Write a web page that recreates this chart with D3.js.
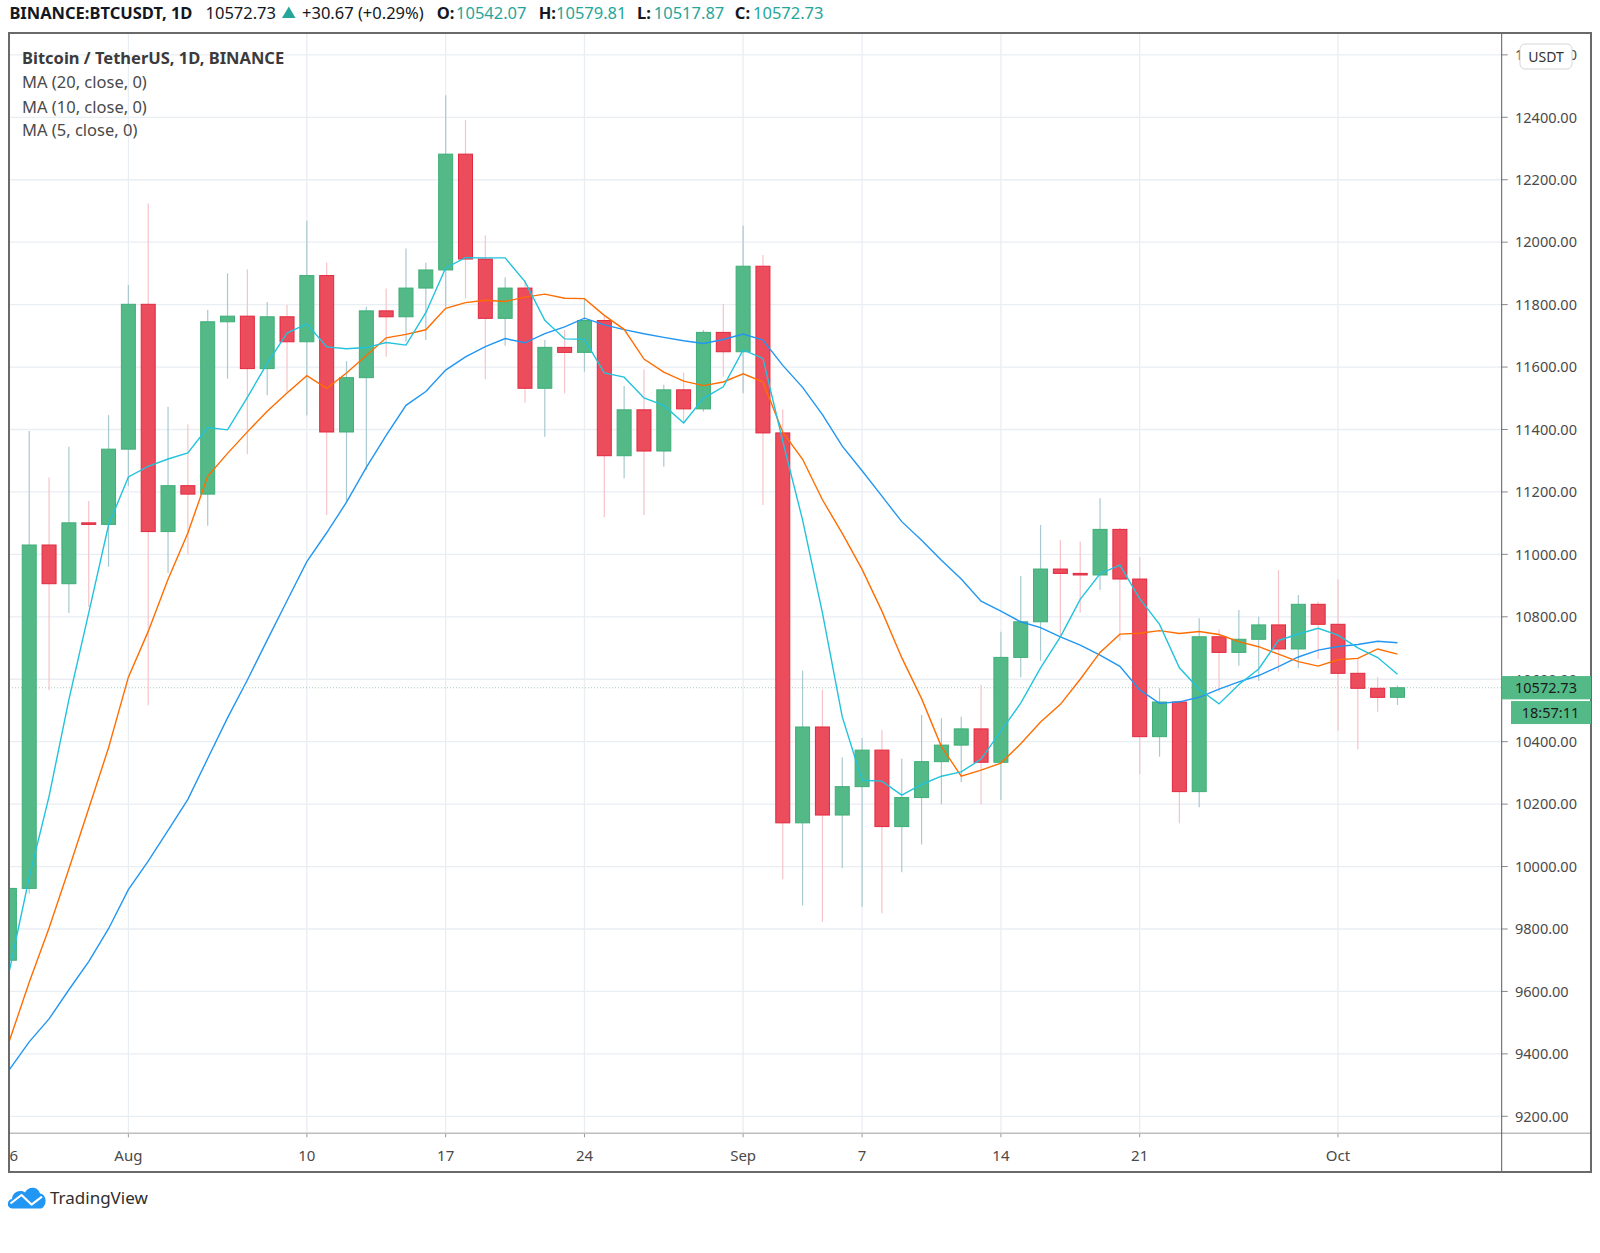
<!DOCTYPE html>
<html><head><meta charset="utf-8">
<script src="https://cdn.jsdelivr.net/npm/d3@7/dist/d3.min.js"></script>
<style>
html,body{margin:0;padding:0;background:#fff;}
svg{display:block;}
text{font-family:"Noto Sans",Lato,sans-serif;}
</style></head>
<body>
<svg id="chart" width="1600" height="1253"></svg>
<script>
// ---------- DATA ----------
const dates = ["2020-07-26","2020-07-27","2020-07-28","2020-07-29","2020-07-30","2020-07-31",
"2020-08-01","2020-08-02","2020-08-03","2020-08-04","2020-08-05","2020-08-06","2020-08-07","2020-08-08","2020-08-09","2020-08-10",
"2020-08-11","2020-08-12","2020-08-13","2020-08-14","2020-08-15","2020-08-16","2020-08-17","2020-08-18","2020-08-19","2020-08-20",
"2020-08-21","2020-08-22","2020-08-23","2020-08-24","2020-08-25","2020-08-26","2020-08-27","2020-08-28","2020-08-29","2020-08-30","2020-08-31",
"2020-09-01","2020-09-02","2020-09-03","2020-09-04","2020-09-05","2020-09-06","2020-09-07","2020-09-08","2020-09-09","2020-09-10",
"2020-09-11","2020-09-12","2020-09-13","2020-09-14","2020-09-15","2020-09-16","2020-09-17","2020-09-18","2020-09-19","2020-09-20",
"2020-09-21","2020-09-22","2020-09-23","2020-09-24","2020-09-25","2020-09-26","2020-09-27","2020-09-28","2020-09-29","2020-09-30",
"2020-10-01","2020-10-02","2020-10-03","2020-10-04"];
const opens = [9700,9930,11030,10906,11101,11096,11337,11801,11073,11220,11193,11745,11763,11595,11761,11681,
11893,11392,11566,11780,11761,11853,11911,12282,11946,11756,11853,11532,11663,11647,11749,11316,11463,11331,11527,11466,11711,
11649,11923,11389,10140,10447,10165,10256,10373,10128,10221,10336,10389,10441,10334,10670,10784,10953,10939,10934,11080,
10921,10416,10527,10240,10736,10686,10728,10774,10697,10840,10776,10619,10571,10542.07];
const highs = [9990,11395,11246,11345,11171,11446,11863,12124,11473,11417,11783,11900,11913,11808,11799,12069,
11935,11619,11793,11852,11980,11934,12471,12391,12021,11888,11879,11687,11719,11820,11767,11539,11593,11543,11582,11719,11802,
12053,11959,11465,10627,10566,10349,10411,10438,10345,10486,10475,10480,10582,10752,10931,11094,11046,11041,11180,
11085,10991,10571,10533,10795,10760,10822,10800,10950,10870,10849,10920,10667,10606,10579.81];
const lows = [9650,9914,10565,10812,10831,10960,11219,10516,10940,11000,11092,11563,11321,11510,11521,11446,
11126,11164,11270,11633,11681,11687,11793,11820,11561,11668,11486,11377,11516,11585,11119,11244,11126,11281,11420,11457,11569,
11516,11158,9959,9875,9823,9995,9871,9850,9982,10071,10200,10270,10200,10213,10606,10659,10736,10813,10886,
10723,10296,10352,10139,10190,10559,10643,10595,10624,10635,10665,10435,10376,10496,10517.87];
const closes = [9930,11030,10906,11101,11096,11337,11801,11073,11220,11193,11745,11763,11595,11761,11681,11893,
11392,11566,11780,11761,11853,11911,12282,11946,11756,11853,11532,11663,11647,11749,11316,11463,11331,11527,11466,11711,11649,
11923,11389,10140,10447,10165,10256,10373,10128,10221,10336,10389,10441,10334,10670,10784,10953,10939,10934,11080,10921,
10416,10527,10240,10736,10686,10728,10774,10697,10840,10776,10619,10571,10542.07,10572.73];
// closes before the visible window (Jul 7 - Jul 25), estimated from where the MA lines start
const priorCloses = [9257,9436,9232,9288,9234,9303,9243,9255,9197,9133,9154,9170,9208,9160,9391,9537,9608,9551,9708];
const priceTicks = [9200,9400,9600,9800,10000,10200,10400,10600,10800,11000,11200,11400,11600,11800,12000,12200,12400,12600];
const xTickDates = ["2020-07-26","2020-08-01","2020-08-10","2020-08-17","2020-08-24","2020-09-01","2020-09-07","2020-09-14","2020-09-21","2020-10-01"];
const xTickLabels = ["26","Aug","10","17","24","Sep","7","14","21","Oct"];
const maPeriods = [20, 10, 5];
const maColors = ["#2196f3", "#ff6d00", "#22c3dc"];
const lastPrice = 10572.73;

// ---------- LAYOUT ----------
const L = 9, T = 33, R = 1501.7, B = 1133.3, OUTR = 1591, OUTB = 1172;
const svg = d3.select("#chart");
const parse = d3.utcParse("%Y-%m-%d");
const x = d3.scaleUtc().domain([parse(dates[0]), parse(dates[dates.length-1])]).range([9.4, 9.4 + 19.83*(dates.length-1)]);
const y = d3.scaleLinear().domain([9200, 12400]).range([1116.3, 117.3]);
const up = "#53b987", dn = "#eb4d5c";

const defs = svg.append("defs");
defs.append("clipPath").attr("id","plot").append("rect").attr("x",L).attr("y",T).attr("width",R-L).attr("height",B-T);
defs.append("clipPath").attr("id","xaxis").append("rect").attr("x",L).attr("y",B).attr("width",R-L).attr("height",OUTB-B);

// grid
const grid = svg.append("g").attr("clip-path","url(#plot)");
grid.selectAll(".hg").data(priceTicks).join("line")
  .attr("x1",L).attr("x2",R).attr("y1",d=>y(d)).attr("y2",d=>y(d))
  .attr("stroke","#e9eef3").attr("stroke-width",1.3);
grid.selectAll(".vg").data(xTickDates).join("line")
  .attr("x1",d=>x(parse(d))).attr("x2",d=>x(parse(d))).attr("y1",T).attr("y2",B)
  .attr("stroke","#e9eef3").attr("stroke-width",1.3);

// last price dotted line
grid.append("line").attr("x1",L).attr("x2",R).attr("y1",y(lastPrice)).attr("y2",y(lastPrice))
  .attr("stroke","#a9cdb9").attr("stroke-width",1).attr("stroke-dasharray","1,2");

// candles
const data = dates.map((d,i)=>({d:parse(d),o:opens[i],h:highs[i],l:lows[i],c:closes[i]}));
const cg = svg.append("g").attr("clip-path","url(#plot)");
cg.selectAll(".wick").data(data).join("line")
  .attr("x1",d=>x(d.d)).attr("x2",d=>x(d.d)).attr("y1",d=>y(d.h)).attr("y2",d=>y(d.l))
  .attr("stroke",d=>d.c>=d.o?"#a8c9d0":"#f6c3c8").attr("stroke-width",1.2);
const bw = 15;
cg.selectAll(".body").data(data).join("rect")
  .attr("x",d=>x(d.d)-bw/2+0.5).attr("width",bw-1)
  .attr("y",d=>y(Math.max(d.o,d.c)))
  .attr("height",d=>Math.max(1, Math.abs(y(d.o)-y(d.c))))
  .attr("fill",d=>d.c>=d.o?up:dn)
  .attr("stroke",d=>d.c>=d.o?"#3fae77":"#e2283f").attr("stroke-width",1);

// moving averages
const allCloses = priorCloses.concat(closes);
const off = priorCloses.length;
maPeriods.forEach((n,k)=>{
  const vals = closes.map((c,i)=>d3.mean(allCloses.slice(i+off-n+1, i+off+1)));
  const line = d3.line().x((v,i)=>x(data[i].d)).y(v=>y(v));
  cg.append("path").attr("d",line(vals)).attr("fill","none").attr("stroke",maColors[k]).attr("stroke-width",1.4);
});

// x axis
const xa = svg.append("g").attr("clip-path","url(#xaxis)");
xa.selectAll(".xt").data(xTickDates).join("line")
  .attr("x1",d=>x(parse(d))).attr("x2",d=>x(parse(d))).attr("y1",B).attr("y2",B+4)
  .attr("stroke","#9a9a9a");
xa.selectAll(".xl").data(xTickDates).join("text")
  .attr("x",d=>x(parse(d))).attr("y",1160.5).attr("text-anchor","middle")
  .attr("font-size",15).attr("fill","#4a4a4a").text((d,i)=>xTickLabels[i]);

// y axis
const ya = svg.append("g");
ya.selectAll(".yt").data(priceTicks).join("line")
  .attr("x1",R).attr("x2",R+6).attr("y1",d=>y(d)).attr("y2",d=>y(d)).attr("stroke","#8a8a8a");
ya.selectAll(".yl").data(priceTicks).join("text")
  .attr("x",1515).attr("y",d=>y(d)+5.3).attr("font-size",14.5).attr("fill","#4a4a4a")
  .text(d=>d3.format(".2f")(d));

// frame
svg.append("line").attr("x1",L).attr("x2",OUTR).attr("y1",B).attr("y2",B).attr("stroke","#bdbdbd").attr("stroke-width",1.5);
svg.append("line").attr("x1",R).attr("x2",R).attr("y1",T).attr("y2",OUTB).attr("stroke","#5a5a5a").attr("stroke-width",1);
svg.append("rect").attr("x",L).attr("y",T).attr("width",OUTR-L).attr("height",OUTB-T)
  .attr("fill","none").attr("stroke","#6a6a6a").attr("stroke-width",2);

// USDT button
svg.append("rect").attr("x",1520).attr("y",44).attr("width",52).attr("height",25).attr("rx",5)
  .attr("fill","#fff").attr("stroke","#d6d6d6");
svg.append("text").attr("x",1546).attr("y",61.5).attr("text-anchor","middle").attr("font-size",14).attr("fill","#333").text("USDT");

// last price label + countdown
svg.append("rect").attr("x",R).attr("y",y(lastPrice)-11.7).attr("width",OUTR-R).attr("height",23.3).attr("fill",up);
svg.append("text").attr("x",1515).attr("y",y(lastPrice)+5.3).attr("font-size",14.5).attr("fill","#1b1b1b").text(d3.format(".2f")(lastPrice));
svg.append("rect").attr("x",1511).attr("y",y(lastPrice)+13.3).attr("width",OUTR-1511).attr("height",23).attr("fill",up);
svg.append("text").attr("x",1550.5).attr("y",y(lastPrice)+30.3).attr("text-anchor","middle").attr("font-size",14.5).attr("fill","#1b1b1b").text("18:57:11");

// header
const hd = svg.append("g").attr("font-size",16.5);
const teal = "#26a69a";
[["BINANCE:BTCUSDT, 1D",9.4,"#131722",700],["10572.73",205.5,"#131722",400],["+30.67 (+0.29%)",302,"#131722",400],
 ["O:",436.7,"#131722",700],["10542.07",456,teal,400],["H:",538.7,"#131722",700],["10579.81",556,teal,400],
 ["L:",637,"#131722",700],["10517.87",653.8,teal,400],["C:",734.8,"#131722",700],["10572.73",753,teal,400]]
 .forEach(([t,xx,col,w])=>hd.append("text").attr("x",xx).attr("y",18.5).attr("fill",col).attr("font-weight",w).text(t));
hd.append("path").attr("d","M282,18 L288.8,6.5 L295.5,18 Z").attr("fill",teal);

// legend
const lg = svg.append("g").attr("font-size",16.5);
lg.append("text").attr("x",22).attr("y",63.6).attr("font-weight",700).attr("fill","#3b3b3b").text("Bitcoin / TetherUS, 1D, BINANCE");
["MA (20, close, 0)","MA (10, close, 0)","MA (5, close, 0)"].forEach((t,i)=>
  lg.append("text").attr("x",22).attr("y",[88,112.6,136.3][i]).attr("fill","#4a4a4a").text(t));

// TradingView logo
const logo = svg.append("g");
logo.append("path").attr("fill","#2196f3")
  .attr("d","M12,1208.5 C6.5,1208.5 6.5,1199.5 12,1199 C12.5,1192 20,1189 25,1192.5 C28,1186 38,1186 40,1193.5 C46,1194 47,1203 44,1206 C43,1208 41.5,1208.5 40,1208.5 Z");
logo.append("polyline").attr("points","10.5,1203.5 21.5,1195 31.5,1204.5 42,1196.5")
  .attr("fill","none").attr("stroke","#fff").attr("stroke-width",2.2).attr("stroke-linejoin","round");
logo.append("text").attr("x",50).attr("y",1204).attr("font-size",17).attr("fill","#2e2e2e").text("TradingView");
</script>
</body></html>
